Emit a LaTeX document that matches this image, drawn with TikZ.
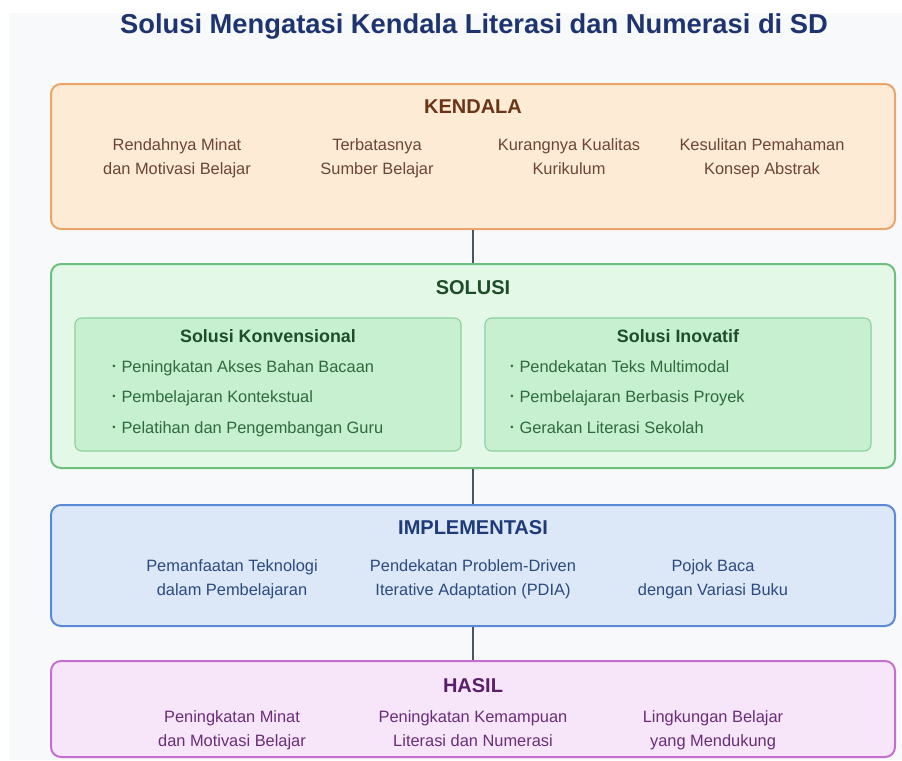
\documentclass[tikz,border=0pt]{standalone}
\usepackage{fontspec}
\setmainfont{Liberation Sans}
\usetikzlibrary{fit}
\definecolor{bg}{HTML}{F8F9FA}
\definecolor{kfill}{HTML}{FDEBD5}
\definecolor{kdraw}{HTML}{E9A56A}
\definecolor{ktitle}{HTML}{6B3416}
\definecolor{ktext}{HTML}{6B4536}
\definecolor{sfill}{HTML}{E3F8E6}
\definecolor{sdraw}{HTML}{6DBF7E}
\definecolor{sinfill}{HTML}{C6F0CF}
\definecolor{sindraw}{HTML}{8CCF9B}
\definecolor{stitle}{HTML}{1E4D2B}
\definecolor{stext}{HTML}{2F6A3E}
\definecolor{ifill}{HTML}{DCE8F8}
\definecolor{idraw}{HTML}{5A8AD6}
\definecolor{ititle}{HTML}{1E3A78}
\definecolor{itext}{HTML}{2B4A80}
\definecolor{hfill}{HTML}{F7E6FA}
\definecolor{hdraw}{HTML}{C46FCF}
\definecolor{htitle}{HTML}{5B1F6A}
\definecolor{htext}{HTML}{6A2D78}
\definecolor{maintitle}{HTML}{1E3470}
\definecolor{conn}{HTML}{4A5563}
\newcommand{\bulletmark}{\raisebox{0.25ex}{\fontsize{7}{7}\selectfont\textbullet}\hspace{4.5pt}}
\tikzset{
  box/.style={rounded corners=7.5pt, line width=1.5pt, inner sep=0pt},
  inbox/.style={rounded corners=5pt, line width=0.8pt, inner sep=0pt, draw=sindraw, fill=sinfill},
  sectitle/.style={font=\fontsize{15}{17}\selectfont\bfseries, inner sep=0pt},
  subtitle/.style={font=\fontsize{13.4}{15}\selectfont\bfseries, inner sep=0pt, text=stitle},
  item/.style={font=\fontsize{12.3}{18}\selectfont, align=center, inner sep=0pt},
  bul/.style={font=\fontsize{12.3}{14}\selectfont, anchor=base west, inner sep=0pt, text=stext},
  connline/.style={draw=conn, line width=2.2pt},
}
\begin{document}
\begin{tikzpicture}[x=0.75pt, y=-0.75pt]
\useasboundingbox (0,0) rectangle (902,760);
\fill[white] (0,0) rectangle (902,760);
\fill[bg] (9,13) rectangle (902,760);

\node[font=\fontsize{20.5}{24}\selectfont\bfseries, text=maintitle, inner sep=0pt] (title) at (474,26) {Solusi Mengatasi Kendala Literasi dan Numerasi di SD};

% KENDALA
\node[box, draw=kdraw, fill=kfill, fit={(51,84) (895,229)}] (kendala) {};
\node[sectitle, text=ktitle] (kt) at (473,107) {KENDALA};
\node[item, text=ktext] (k1) at (177,158) {\strut Rendahnya Minat\\\strut dan Motivasi Belajar};
\node[item, text=ktext] (k2) at (377,158) {\strut Terbatasnya\\\strut Sumber Belajar};
\node[item, text=ktext] (k3) at (569,158) {\strut Kurangnya Kualitas\\\strut Kurikulum};
\node[item, text=ktext] (k4) at (762,158) {\strut Kesulitan Pemahaman\\\strut Konsep Abstrak};

% SOLUSI
\node[box, draw=sdraw, fill=sfill, fit={(51,264) (895,468)}] (solusi) {};
\node[sectitle, text=stitle] (st) at (473,288) {SOLUSI};
\node[inbox, fit={(75,318) (461,451)}] (konv) {};
\node[inbox, fit={(485,318) (871,451)}] (inov) {};
\node[subtitle] (kt2) at (268,336) {Solusi Konvensional};
\node[subtitle] (it2) at (678,336) {Solusi Inovatif};
\node[bul] (b1) at (112,372) {\bulletmark Peningkatan Akses Bahan Bacaan};
\node[bul] (b2) at (112,402) {\bulletmark Pembelajaran Kontekstual};
\node[bul] (b3) at (112,433) {\bulletmark Pelatihan dan Pengembangan Guru};
\node[bul] (b4) at (510,372) {\bulletmark Pendekatan Teks Multimodal};
\node[bul] (b5) at (510,402) {\bulletmark Pembelajaran Berbasis Proyek};
\node[bul] (b6) at (510,433) {\bulletmark Gerakan Literasi Sekolah};

% IMPLEMENTASI
\node[box, draw=idraw, fill=ifill, fit={(51,505) (895,626)}] (impl) {};
\node[sectitle, text=ititle] (imt) at (473,528) {IMPLEMENTASI};
\node[item, text=itext] (i1) at (232,579) {\strut Pemanfaatan Teknologi\\\strut dalam Pembelajaran};
\node[item, text=itext] (i2) at (473,579) {\strut Pendekatan Problem-Driven\\\strut Iterative Adaptation (PDIA)};
\node[item, text=itext] (i3) at (713,579) {\strut Pojok Baca\\\strut dengan Variasi Buku};

% HASIL
\node[box, draw=hdraw, fill=hfill, fit={(51,661) (895,757)}] (hasil) {};
\node[sectitle, text=htitle] (ht) at (473,686) {HASIL};
\node[item, text=htext] (h1) at (232,730) {\strut Peningkatan Minat\\\strut dan Motivasi Belajar};
\node[item, text=htext] (h2) at (473,730) {\strut Peningkatan Kemampuan\\\strut Literasi dan Numerasi};
\node[item, text=htext] (h3) at (713,730) {\strut Lingkungan Belajar\\\strut yang Mendukung};

% connectors
\draw[connline] (kendala.south) -- (solusi.north);
\draw[connline] (solusi.south) -- (impl.north);
\draw[connline] (impl.south) -- (hasil.north);
\end{tikzpicture}
\end{document}
